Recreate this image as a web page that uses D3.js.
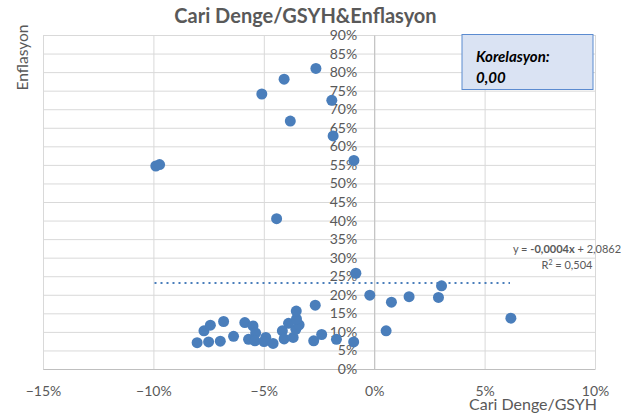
<!DOCTYPE html>
<html>
<head>
<meta charset="utf-8">
<script src="https://cdn.jsdelivr.net/npm/d3@7/dist/d3.min.js"></script>
<style>
  html, body { margin: 0; padding: 0; background: #ffffff; }
  svg { display: block; font-family: Lato, "Open Sans", sans-serif; }
</style>
</head>
<body>
<svg id="chart" width="638" height="419"></svg>
<script>
// Current account balance / GDP (x) versus inflation (y), as fractions
const currentAccount = [
  -0.0989, -0.0972, -0.0264, -0.0408, -0.0509, -0.0192, -0.0380, -0.0186, -0.0092, -0.0442, -0.0083,
  -0.0020, 0.0078, 0.0158, 0.0291, 0.0305, 0.0619, 0.0054,
  -0.0802, -0.0750, -0.0697, -0.0637, -0.0771, -0.0742, -0.0682, -0.0586, -0.0549, -0.0537,
  -0.0569, -0.0540, -0.0491, -0.0499, -0.0458, -0.0416, -0.0408, -0.0388, -0.0367, -0.0355,
  -0.0340, -0.0352, -0.0353, -0.0267, -0.0274, -0.0238, -0.0171, -0.0093
];
const inflation = [
  0.547, 0.551, 0.810, 0.781, 0.741, 0.724, 0.668, 0.628, 0.562, 0.405, 0.258,
  0.199, 0.180, 0.195, 0.193, 0.224, 0.137, 0.103,
  0.071, 0.073, 0.075, 0.088, 0.103, 0.118, 0.128, 0.125, 0.116, 0.097,
  0.080, 0.076, 0.085, 0.074, 0.069, 0.103, 0.081, 0.123, 0.085, 0.107,
  0.119, 0.135, 0.156, 0.172, 0.076, 0.093, 0.080, 0.073
];

// Axis ticks
const xTicks = [-0.15, -0.10, -0.05, 0, 0.05, 0.10];
const yTicks = [0, 0.05, 0.10, 0.15, 0.20, 0.25, 0.30, 0.35, 0.40, 0.45, 0.50, 0.55, 0.60, 0.65, 0.70, 0.75, 0.80, 0.85, 0.90];

// Linear trend line (endpoints along the fitted line) and its labels
const trendX = [-0.0995, 0.0615];
const trendY = [0.2315, 0.2314];
const trendEquation = ["y = ", "-0,0004x", " + 2,0862"];
const trendR2 = "0,504";
const correlationText = ["Korelasyon:", "0,00"];

const svg = d3.select("#chart");
const x = d3.scaleLinear().domain([-0.15, 0.10]).range([43, 595]);
const y = d3.scaleLinear().domain([0, 0.90]).range([369, 35]);
const pct = d3.format(".0%");
const grey = "#595959";

// Gridlines
svg.append("g")
  .attr("transform", `translate(0,${y(0)})`)
  .call(d3.axisBottom(x).tickValues(xTicks).tickSize(-(y(0) - y(0.9))).tickFormat(""))
  .call(g => g.select(".domain").remove())
  .call(g => g.selectAll("line").attr("stroke", "#d9d9d9"));
svg.append("g")
  .attr("transform", `translate(${x(-0.15)},0)`)
  .call(d3.axisLeft(y).tickValues(yTicks).tickSize(-(x(0.10) - x(-0.15))).tickFormat(""))
  .call(g => g.select(".domain").remove())
  .call(g => g.selectAll("line").attr("stroke", "#d9d9d9"));

// Axis lines through the origin
svg.append("g")
  .attr("transform", `translate(0,${y(0)})`)
  .call(d3.axisBottom(x).tickValues(xTicks).tickSize(0).tickPadding(17).tickFormat(pct))
  .call(g => g.select(".domain").attr("stroke", "#bfbfbf"))
  .call(g => g.selectAll("text").attr("fill", grey).attr("font-size", 14).attr("font-family", "Lato"));
svg.append("g")
  .attr("transform", `translate(${x(0)},0)`)
  .call(d3.axisLeft(y).tickValues(yTicks).tickSize(0).tickPadding(17).tickFormat(pct))
  .call(g => g.select(".domain").attr("stroke", "#bfbfbf"))
  .call(g => g.selectAll("text").attr("fill", grey).attr("font-size", 14).attr("font-family", "Lato"));

// Trend line
svg.append("line")
  .attr("x1", x(trendX[0])).attr("y1", y(trendY[0]))
  .attr("x2", x(trendX[1])).attr("y2", y(trendY[1]))
  .attr("stroke", "#4a7ebb").attr("stroke-width", 2)
  .attr("stroke-dasharray", "2 4");

// Scatter points
svg.append("g").selectAll("circle")
  .data(d3.range(currentAccount.length))
  .join("circle")
  .attr("cx", i => x(currentAccount[i]))
  .attr("cy", i => y(inflation[i]))
  .attr("r", 5.5)
  .attr("fill", "#4a7ebb");

// Trend equation label
const eq = svg.append("text")
  .attr("x", 567).attr("y", 253)
  .attr("text-anchor", "middle")
  .attr("font-size", 11).attr("fill", grey);
eq.append("tspan").text(trendEquation[0]);
eq.append("tspan").attr("font-weight", "bold").text(trendEquation[1]);
eq.append("tspan").text(trendEquation[2]);
const r2 = svg.append("text")
  .attr("x", 567).attr("y", 269)
  .attr("text-anchor", "middle")
  .attr("font-size", 11).attr("fill", grey);
r2.append("tspan").text("R");
r2.append("tspan").attr("font-size", 7).attr("dy", -4).text("2");
r2.append("tspan").attr("dy", 4).text(" = " + trendR2);

// Correlation box
svg.append("rect")
  .attr("x", 462).attr("y", 34.5).attr("width", 131).attr("height", 55)
  .attr("fill", "#dae3f3").attr("stroke", "#5b8bd0").attr("stroke-width", 1);
svg.append("text")
  .attr("x", 476).attr("y", 62)
  .attr("font-size", 15).attr("font-weight", "bold").attr("font-style", "italic")
  .attr("fill", "#000").text(correlationText[0]);
svg.append("text")
  .attr("x", 476).attr("y", 83)
  .attr("font-size", 15).attr("font-weight", "bold").attr("font-style", "italic")
  .attr("fill", "#000").text(correlationText[1]);

// Title and axis titles
svg.append("text")
  .attr("x", 305.5).attr("y", 23)
  .attr("text-anchor", "middle")
  .attr("font-size", 20).attr("font-weight", "bold").attr("fill", grey)
  .text("Cari Denge/GSYH&Enflasyon");
svg.append("text")
  .attr("transform", "translate(28,57.5) rotate(-90)")
  .attr("text-anchor", "middle")
  .attr("font-size", 15.5).attr("fill", grey)
  .text("Enflasyon");
svg.append("text")
  .attr("x", 597).attr("y", 410)
  .attr("text-anchor", "end")
  .attr("font-size", 16).attr("fill", grey)
  .text("Cari Denge/GSYH");
</script>
</body>
</html>
